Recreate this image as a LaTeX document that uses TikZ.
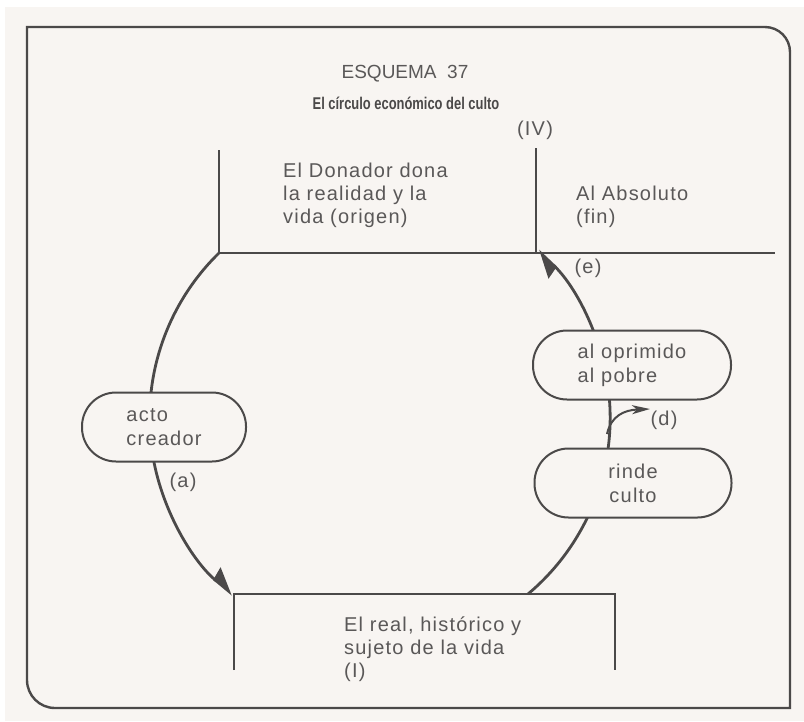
\documentclass[tikz,border=0pt]{standalone}
\usepackage{fontspec}
\setmainfont{Liberation Sans}
\newfontfamily\spacedfont{Liberation Sans}[LetterSpace=6]
\newfontfamily\narrowbold{Liberation Sans}[FakeStretch=0.76]
\usetikzlibrary{arrows.meta,calc}
\definecolor{paper}{HTML}{F8F5F2}
\definecolor{ink}{HTML}{4B4949}
\definecolor{inktext}{HTML}{5A5858}
\tikzset{
	capsule/.style={draw=ink, line width=2pt, fill=paper, rounded corners=34pt, minimum height=69pt, inner sep=0pt, text=inktext, font=\spacedfont\fontsize{20}{24}\selectfont},
	notetext/.style={inner sep=0pt, text=inktext, align=left, font=\spacedfont\fontsize{20}{23}\selectfont},
	frameline/.style={draw=ink, line width=2pt},
	cycleline/.style={draw=ink, line width=2.8pt},
	halfhead/.style={-{Stealth[harpoon,length=24pt,width=26pt,inset=2pt]}}
}

\begin{document}
\begin{tikzpicture}[x=1pt,y=-1pt]
	%%%%% START %%%%%
	
	\useasboundingbox (0,0) rectangle (804,721);
	\fill[white] (0,0) rectangle (804,721);
	\fill[paper] (5,7) rectangle (804,721);
	
	\draw[line width=2.4pt, draw=ink] (27,27) -- (765,27) arc (-90:0:25) -- (790,708) -- (55,708) arc (90:180:28) -- cycle;
	
	\node[inner sep=0pt, text=inktext, font=\fontsize{19}{22}\selectfont] (titulo) at (405,74) {ESQUEMA\ \ 37};
	\node[inner sep=0pt, text=ink, font=\narrowbold\bfseries\fontsize{17}{20}\selectfont] (subtitulo) at (406,103) {El círculo económico del culto};
	\node[notetext] (iv) at (535,130) {(IV)};
	
	% puntos del circulo
	\coordinate (centro) at (380,418);
	\coordinate (origen) at (219,253);
	\coordinate (fin) at (536,253);
	\coordinate (sujetoL) at (234,594);
	\coordinate (sujetoR) at (528,594);
	
	\draw[frameline] (219,150) -- (origen) -- (fin) -- (775,253);
	\draw[frameline] (536,148) -- (fin);
	\draw[frameline] (234,670) -- (sujetoL) -- (sujetoR) -- (615,594) -- (615,670);
	
	\draw[cycleline, halfhead] (origen) arc (225.7:129.7:230);
	\draw[cycleline, halfhead] (sujetoR) arc (50:-46.6:230);
	
	\node[capsule, minimum width=164pt, align=left] (creador) at (164,427) {acto\\creador};
	\node[capsule, minimum width=198pt, align=left] (oprimido) at (632,365) {al oprimido\\al pobre};
	\node[capsule, minimum width=197pt, align=center] (culto) at (633,483) {rinde\\culto};
	
	\coordinate (dpie) at (607,434);
	\draw[line width=2pt, draw=ink, -{Stealth[length=18pt,width=9pt,inset=5pt]}] (dpie) .. controls (611,416) and (624,410) .. (650,409);
	
	\node[notetext, anchor=west] (donador) at (283,195) {El Donador dona\\la realidad y la\\vida (origen)};
	\node[notetext, anchor=west] (absoluto) at (576,207) {Al Absoluto\\(fin)};
	\node[notetext, anchor=west] (sujeto) at (344,649) {El real, histórico y\\sujeto de la vida\\(I)};
	
	\node[notetext] (e) at (588,268) {(e)};
	\node[notetext] (d) at (664,420) {(d)};
	\node[notetext] (a) at (183,482) {(a)};
	
	%%%%% END %%%%%
\end{tikzpicture}
\end{document}
